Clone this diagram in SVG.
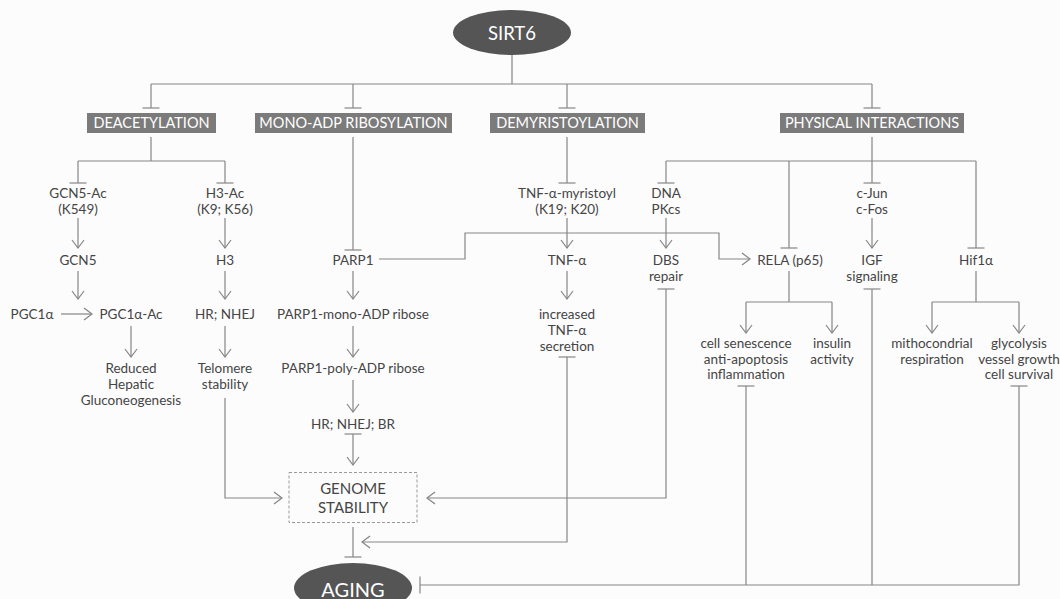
<svg xmlns="http://www.w3.org/2000/svg" width="1060" height="599" viewBox="0 0 1060 599">
<style>
.c{fill:none;stroke:#858585;stroke-width:1.2}
.t{font-family:Lato,"Open Sans","Liberation Sans",sans-serif;font-size:13.5px;fill:#454545;text-anchor:middle}
.bx{fill:#7b7b7b}
.bt{font-family:Lato,"Open Sans","Liberation Sans",sans-serif;font-size:14.5px;fill:#fff;text-anchor:middle}
.el{fill:#555}
.et{font-family:Lato,"Open Sans","Liberation Sans",sans-serif;font-size:18.5px;fill:#fff;text-anchor:middle}
</style>
<defs>
<marker id="a" viewBox="-10 -8 12 16" refX="0" refY="0" markerWidth="12" markerHeight="16" orient="auto" markerUnits="userSpaceOnUse"><path d="M-8,-6 L0,0 L-8,6" fill="none" stroke="#858585" stroke-width="1.2"/></marker>
<marker id="b" viewBox="-2 -10 4 20" refX="0" refY="0" markerWidth="4" markerHeight="20" orient="auto" markerUnits="userSpaceOnUse"><path d="M0,-8.5 L0,8.5" fill="none" stroke="#858585" stroke-width="1.2"/></marker>
</defs>
<rect width="1060" height="599" fill="#fcfcfc"/>
<g id="connectors">
<path class="c" d="M512,55 V84"/>
<path class="c" d="M151,84 H872"/>
<path class="c" d="M151,84 V108" marker-end="url(#b)"/>
<path class="c" d="M353,84 V108" marker-end="url(#b)"/>
<path class="c" d="M567,84 V108" marker-end="url(#b)"/>
<path class="c" d="M872,84 V108" marker-end="url(#b)"/>
<path class="c" d="M151,137 V161 M78,161 H225"/>
<path class="c" d="M78,161 V183" marker-end="url(#b)"/>
<path class="c" d="M225,161 V183" marker-end="url(#b)"/>
<path class="c" d="M78,218 V248" marker-end="url(#a)"/>
<path class="c" d="M225,218 V248" marker-end="url(#a)"/>
<path class="c" d="M78,271 V299" marker-end="url(#a)"/>
<path class="c" d="M225,271 V299" marker-end="url(#a)"/>
<path class="c" d="M61,314 H92" marker-end="url(#a)"/>
<path class="c" d="M131,326 V357" marker-end="url(#a)"/>
<path class="c" d="M225,326 V357" marker-end="url(#a)"/>
<path class="c" d="M225,398 V498 H282" marker-end="url(#a)"/>
<path class="c" d="M353,137 V250" marker-end="url(#b)"/>
<path class="c" d="M379,259 H465 V233 H719 V259 H750" marker-end="url(#a)"/>
<path class="c" d="M353,271 V299" marker-end="url(#a)"/>
<path class="c" d="M353,326 V357" marker-end="url(#a)"/>
<path class="c" d="M353,380 V412" marker-end="url(#a)"/>
<path class="c" d="M353,434 V465" marker-start="url(#b)" marker-end="url(#a)"/>
<path class="c" d="M353,527 V557" marker-end="url(#b)"/>
<path class="c" d="M567,137 V183" marker-end="url(#b)"/>
<path class="c" d="M567,218 V248" marker-end="url(#a)"/>
<path class="c" d="M567,271 V299" marker-end="url(#a)"/>
<path class="c" d="M567,357 V542 H362" marker-start="url(#b)" marker-end="url(#a)"/>
<path class="c" d="M872,137 V183" marker-end="url(#b)"/>
<path class="c" d="M666,161 H976"/>
<path class="c" d="M666,161 V183" marker-end="url(#b)"/>
<path class="c" d="M789,161 V248" marker-end="url(#b)"/>
<path class="c" d="M976,161 V248" marker-end="url(#b)"/>
<path class="c" d="M666,218 V248" marker-end="url(#a)"/>
<path class="c" d="M666,289 V498 H427" marker-start="url(#b)" marker-end="url(#a)"/>
<path class="c" d="M872,218 V248" marker-end="url(#a)"/>
<path class="c" d="M789,271 V302 M746,302 H832"/>
<path class="c" d="M746,302 V333" marker-end="url(#a)"/>
<path class="c" d="M832,302 V333" marker-end="url(#a)"/>
<path class="c" d="M976,271 V302 M932,302 H1019"/>
<path class="c" d="M932,302 V333" marker-end="url(#a)"/>
<path class="c" d="M1019,302 V333" marker-end="url(#a)"/>
<path class="c" d="M1019,386 V585 H420" marker-start="url(#b)" marker-end="url(#b)"/>
<path class="c" d="M746,386 V585" marker-start="url(#b)"/>
<path class="c" d="M872,289 V585" marker-start="url(#b)"/>
</g>
<g id="sirt6"><ellipse class="el" cx="512" cy="32.5" rx="59" ry="22.5"/><text class="et" x="512" y="40">SIRT6</text></g>
<g id="deacetylation"><rect class="bx" x="87" y="113" width="129" height="20"/><text class="bt" x="151.5" y="128">DEACETYLATION</text></g>
<g id="monoadp"><rect class="bx" x="255" y="113" width="197" height="20"/><text class="bt" x="353.5" y="128">MONO-ADP RIBOSYLATION</text></g>
<g id="demyristoylation"><rect class="bx" x="490" y="113" width="155" height="20"/><text class="bt" x="567.5" y="128">DEMYRISTOYLATION</text></g>
<g id="physical"><rect class="bx" x="780" y="113" width="184" height="20"/><text class="bt" x="872" y="128">PHYSICAL INTERACTIONS</text></g>
<g id="gcn5ac"><text class="t" x="78" y="198">GCN5-Ac</text><text class="t" x="78" y="214">(K549)</text></g>
<g id="h3ac"><text class="t" x="225" y="198">H3-Ac</text><text class="t" x="225" y="214">(K9; K56)</text></g>
<g id="gcn5"><text class="t" x="78" y="265">GCN5</text></g>
<g id="h3"><text class="t" x="225" y="265">H3</text></g>
<g id="pgc1a"><text class="t" x="32" y="319">PGC1α</text></g>
<g id="pgc1aac"><text class="t" x="131" y="319">PGC1α-Ac</text></g>
<g id="hrnhej"><text class="t" x="225" y="319">HR; NHEJ</text></g>
<g id="reduced"><text class="t" x="131" y="373">Reduced</text><text class="t" x="131" y="389">Hepatic</text><text class="t" x="131" y="405">Gluconeogenesis</text></g>
<g id="telomere"><text class="t" x="225" y="373">Telomere</text><text class="t" x="225" y="389">stability</text></g>
<g id="parp1"><text class="t" x="353" y="265">PARP1</text></g>
<g id="parp1mono"><text class="t" x="353" y="319">PARP1-mono-ADP ribose</text></g>
<g id="parp1poly"><text class="t" x="353" y="373">PARP1-poly-ADP ribose</text></g>
<g id="hrnhejbr"><text class="t" x="353" y="429">HR; NHEJ; BR</text></g>
<g id="genome"><rect x="289" y="472.5" width="128" height="50" fill="none" stroke="#999" stroke-width="1" stroke-dasharray="3,2"/><text class="t" x="353" y="494" style="font-size:15px">GENOME</text><text class="t" x="353" y="513" style="font-size:15px">STABILITY</text></g>
<g id="aging"><ellipse class="el" cx="353" cy="588" rx="59" ry="25"/><text class="et" x="353" y="597" style="font-size:20px">AGING</text></g>
<g id="tnfmyr"><text class="t" x="567" y="198">TNF-α-myristoyl</text><text class="t" x="567" y="214">(K19; K20)</text></g>
<g id="tnfa"><text class="t" x="567" y="265">TNF-α</text></g>
<g id="increased"><text class="t" x="567" y="319">increased</text><text class="t" x="567" y="335">TNF-α</text><text class="t" x="567" y="351">secretion</text></g>
<g id="dnapkcs"><text class="t" x="666" y="198">DNA</text><text class="t" x="666" y="214">PKcs</text></g>
<g id="dbs"><text class="t" x="666" y="265">DBS</text><text class="t" x="666" y="281">repair</text></g>
<g id="rela"><text class="t" x="790" y="265">RELA (p65)</text></g>
<g id="cjun"><text class="t" x="872" y="198">c-Jun</text><text class="t" x="872" y="214">c-Fos</text></g>
<g id="igf"><text class="t" x="872" y="265">IGF</text><text class="t" x="872" y="281">signaling</text></g>
<g id="hif1a"><text class="t" x="976" y="265">Hif1α</text></g>
<g id="senescence"><text class="t" x="746" y="348">cell senescence</text><text class="t" x="746" y="364">anti-apoptosis</text><text class="t" x="746" y="379">inflammation</text></g>
<g id="insulin"><text class="t" x="832" y="348">insulin</text><text class="t" x="832" y="364">activity</text></g>
<g id="mito"><text class="t" x="932" y="348">mithocondrial</text><text class="t" x="932" y="364">respiration</text></g>
<g id="glyco"><text class="t" x="1019" y="348">glycolysis</text><text class="t" x="1019" y="364">vessel growth</text><text class="t" x="1019" y="379">cell survival</text></g>
</svg>
